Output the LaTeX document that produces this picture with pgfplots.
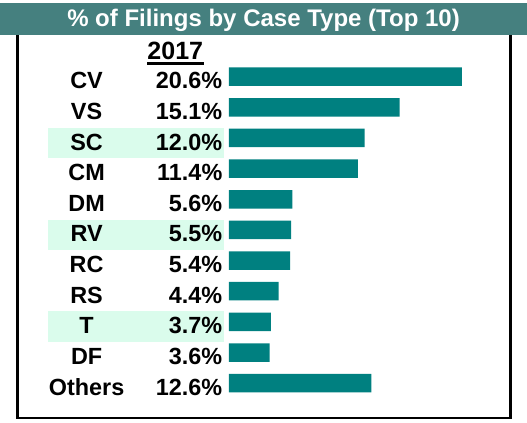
\documentclass[border=0pt]{standalone}
\usepackage{fontspec}
\setmainfont{Liberation Sans}
\usepackage{pgfplots}
\pgfplotsset{compat=1.18}
\definecolor{titlebar}{RGB}{69,128,127}
\definecolor{barteal}{RGB}{0,128,128}
\definecolor{mint}{RGB}{218,252,236}
\newcommand\lbl[2]{\makebox[50pt][c]{#1}\makebox[42.85pt][r]{#2}}
\begin{document}
\begin{tikzpicture}
\path (0pt,0pt) rectangle (263.5pt,211.5pt);
% title bar and frame
\fill[titlebar] (0pt,193.75pt) rectangle (263.5pt,210pt);
\node[anchor=base, inner sep=0pt, text=white, font=\fontsize{12}{14}\selectfont\bfseries]
  at (131.75pt,198.2pt) {\% of Filings by Case Type (Top 10)};
\draw[line width=1.25pt] (8.75pt,193.75pt) -- (8.75pt,2.5pt) -- (255.25pt,2.5pt) -- (255.25pt,193.75pt);
% year heading
\node[anchor=base, inner sep=0pt, font=\fontsize{12.5}{14}\selectfont\bfseries] (yr)
  at (87.65pt,181.5pt) {2017};
\draw[line width=1.4pt] ([yshift=-1.9pt]yr.base west) -- ([yshift=-1.9pt]yr.base east);

\begin{axis}[
  anchor=origin, at={(114.5pt,173.15pt)},
  x=5.65pt, y=15.325pt, y dir=reverse,
  xmin=0, xmax=21, ymin=-0.5, ymax=10.5,
  xbar, bar width=9.25pt, bar shift=0pt,
  axis line style={draw=none}, tick style={draw=none}, major tick length=0pt,
  xtick=\empty, ytick={0,...,10},
  yticklabels={{\lbl{CV}{20.6\%}},{\lbl{VS}{15.1\%}},{\lbl{SC}{12.0\%}},{\lbl{CM}{11.4\%}},
    {\lbl{DM}{5.6\%}},{\lbl{RV}{5.5\%}},{\lbl{RC}{5.4\%}},{\lbl{RS}{4.4\%}},
    {\lbl{T}{3.7\%}},{\lbl{DF}{3.6\%}},{\lbl{Others}{12.6\%}}},
  yticklabel style={anchor=east, inner sep=0pt, xshift=-3.15pt, yshift=-2pt,
    font=\fontsize{11.7}{13}\selectfont\bfseries},
  clip=false, set layers,
]
\begin{pgfonlayer}{axis background}
\fill[mint] (axis cs:-16.04,1.66) rectangle (axis cs:-0.44,2.66);
\fill[mint] (axis cs:-16.04,4.66) rectangle (axis cs:-0.44,5.66);
\fill[mint] (axis cs:-16.04,7.66) rectangle (axis cs:-0.44,8.66);
\end{pgfonlayer}
\addplot[fill=barteal, draw=none] coordinates {
 (20.6,0) (15.1,1) (12.0,2) (11.4,3) (5.6,4) (5.5,5)
 (5.4,6) (4.4,7) (3.7,8) (3.6,9) (12.6,10)
};
\end{axis}
\end{tikzpicture}
\end{document}
